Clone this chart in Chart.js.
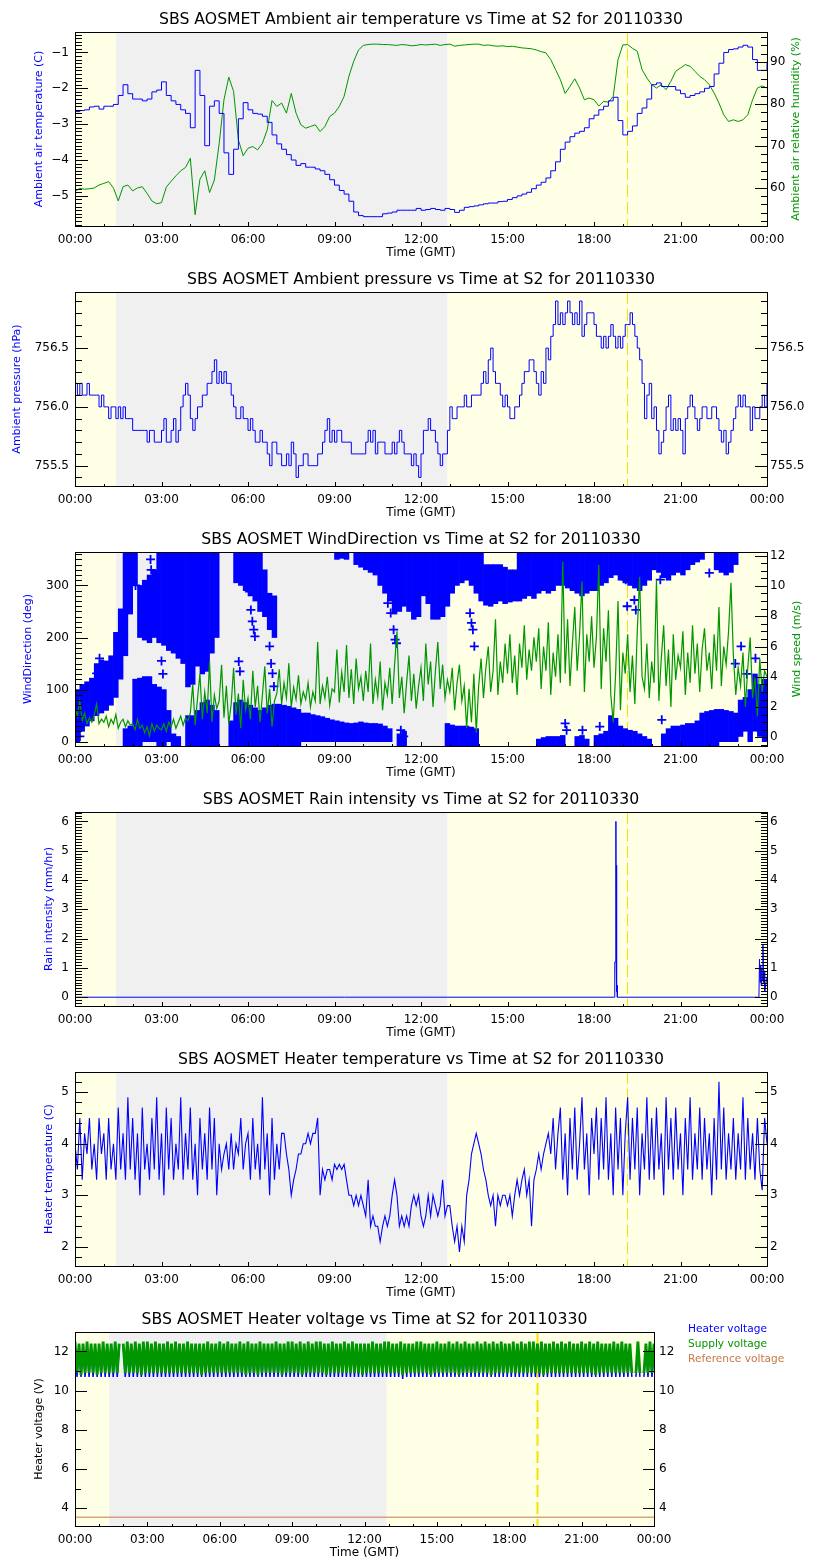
<!DOCTYPE html>
<html>
<head>
<meta charset="utf-8">
<title>SBS AOSMET S2 20110330</title>
<script src="https://cdn.jsdelivr.net/npm/chart.js@4.4.1/dist/chart.umd.min.js"></script>
<style>
  body { margin: 0; background: #fff; width: 840px; height: 1560px; overflow: hidden; }
  canvas { position: absolute; left: 0; }
  canvas.ticks { z-index: 2; pointer-events: none; }
</style>
</head>
<body>
<canvas id="p1" width="840" height="260" style="top:2px"></canvas>
<canvas id="p2" width="840" height="260" style="top:262px"></canvas>
<canvas id="p3" width="840" height="260" style="top:522px"></canvas>
<canvas id="p4" width="840" height="260" style="top:782px"></canvas>
<canvas id="p5" width="840" height="260" style="top:1042px"></canvas>
<canvas id="p6" width="840" height="260" style="top:1302px"></canvas>
<canvas id="p1t" class="ticks" width="840" height="260" style="top:2px"></canvas>
<canvas id="p2t" class="ticks" width="840" height="260" style="top:262px"></canvas>
<canvas id="p3t" class="ticks" width="840" height="260" style="top:522px"></canvas>
<canvas id="p4t" class="ticks" width="840" height="260" style="top:782px"></canvas>
<canvas id="p5t" class="ticks" width="840" height="260" style="top:1042px"></canvas>
<canvas id="p6t" class="ticks" width="840" height="260" style="top:1302px"></canvas>
<script>
// ---- data (hours GMT) ----
const nightStart = 1.42, nightEnd = 12.92, markerHour = 19.13;

// 10 minute samples
const step10 = 1 / 6;
const airTemp = [
  -2.65, -2.62, -2.6, -2.52, -2.5, -2.58, -2.5, -2.5, -2.45, -2.2,
  -1.9, -2.15, -2.3, -2.3, -2.35, -2.3, -2.1, -2.05, -1.82, -2.2,
  -2.35, -2.45, -2.6, -2.7, -3.1, -1.5, -2.2, -3.6, -2.5, -2.35,
  -2.7, -3.8, -4.4, -3.7, -2.85, -2.4, -2.6, -2.7, -2.72, -2.78,
  -2.95, -3.3, -3.55, -3.7, -3.85, -4.0, -4.15, -4.1, -4.2, -4.2,
  -4.25, -4.3, -4.4, -4.55, -4.7, -4.85, -4.95, -5.15, -5.45, -5.55,
  -5.58, -5.58, -5.58, -5.58, -5.5, -5.48, -5.45, -5.4, -5.4, -5.4,
  -5.4, -5.35, -5.4, -5.38, -5.35, -5.38, -5.4, -5.35, -5.38, -5.46,
  -5.4, -5.32, -5.3, -5.28, -5.25, -5.22, -5.2, -5.2, -5.16, -5.15,
  -5.1, -5.05, -5.0, -4.95, -4.9, -4.8, -4.7, -4.62, -4.5, -4.3,
  -4.05, -3.7, -3.5, -3.35, -3.25, -3.2, -3.1, -2.85, -2.75, -2.6,
  -2.5, -2.35, -2.25, -2.9, -3.3, -3.2, -3.05, -2.7, -2.55, -2.3,
  -1.9, -1.85, -1.95, -1.95, -1.95, -2.05, -2.15, -2.25, -2.2, -2.15,
  -2.1, -2.0, -1.95, -1.6, -1.3, -1.0, -0.92, -0.9, -0.85, -0.8,
  -0.85, -1.2, -1.5, -1.5, -1.3
];
const humidity = [
  59.1, 59.8, 59.6, 59.7, 59.9, 60.6, 61.0, 61.4, 59.9, 56.8,
  60.2, 60.6, 59.2, 59.9, 60.2, 58.6, 56.8, 56.1, 56.4, 60.1,
  61.5, 62.8, 64.0, 64.8, 67.0, 53.5, 62.0, 64.0, 58.8, 61.8,
  70.5, 81.0, 86.4, 83.0, 71.4, 67.6, 69.4, 69.8, 69.0, 70.6,
  73.8, 80.8, 79.4, 80.2, 77.8, 82.5, 77.8, 75.0, 74.2, 74.6,
  75.0, 73.4, 74.6, 77.0, 77.8, 79.4, 81.8, 86.6, 90.2, 92.9,
  94.0, 94.2, 94.3, 94.3, 94.2, 94.2, 94.1, 94.0, 94.2, 94.1,
  93.9, 94.0, 94.2, 94.1, 94.2, 94.3, 94.0, 94.2, 94.3, 93.8,
  94.0, 94.1, 94.2, 94.3, 94.3, 94.0, 94.1, 93.9, 93.8, 93.9,
  93.7, 93.8, 93.6, 93.4, 93.3, 93.2, 92.9, 92.5, 92.2, 90.6,
  88.2, 85.8, 82.5, 84.2, 86.0, 83.8, 81.0, 81.4, 81.0, 79.5,
  80.6, 80.4, 81.8, 90.6, 94.1, 94.2, 93.3, 92.6, 88.2, 86.2,
  84.6, 83.8, 84.6, 83.4, 85.4, 87.8, 88.6, 89.4, 89.0, 87.8,
  86.6, 85.8, 84.6, 82.6, 80.2, 77.4, 75.8, 76.2, 75.8, 76.2,
  77.4, 81.0, 83.8, 84.3, 83.8
];

// 5 minute samples
const step5 = 1 / 12;
const pressure = [
  756.2, 756.1, 756.2, 756.1, 756.1, 756.2, 756.1, 756.1, 756.1, 756.1, 756.0, 756.1,
  756.0, 756.0, 755.9, 756.0, 756.0, 755.9, 756.0, 755.9, 756.0, 755.9, 755.9, 755.9,
  755.8, 755.8, 755.8, 755.8, 755.8, 755.8, 755.7, 755.8, 755.8, 755.7, 755.7, 755.7,
  755.8, 755.9, 755.7, 755.7, 755.8, 755.9, 755.7, 755.8, 756.0, 756.1, 756.2, 756.1,
  755.9, 755.8, 755.9, 756.0, 756.0, 756.1, 756.1, 756.2, 756.2, 756.3, 756.4, 756.2,
  756.3, 756.2, 756.3, 756.2, 756.2, 756.1, 756.0, 755.9, 755.9, 756.0, 755.9, 755.9,
  755.8, 755.9, 755.8, 755.7, 755.7, 755.8, 755.7, 755.7, 755.6, 755.5, 755.7, 755.7,
  755.6, 755.6, 755.5, 755.5, 755.6, 755.5, 755.7, 755.6, 755.4, 755.5, 755.5, 755.6,
  755.6, 755.5, 755.5, 755.5, 755.5, 755.6, 755.6, 755.7, 755.8, 755.9, 755.7, 755.8,
  755.7, 755.8, 755.8, 755.7, 755.7, 755.7, 755.7, 755.6, 755.6, 755.6, 755.6, 755.6,
  755.6, 755.7, 755.8, 755.7, 755.8, 755.6, 755.7, 755.7, 755.7, 755.6, 755.6, 755.6,
  755.7, 755.6, 755.7, 755.8, 755.7, 755.6, 755.6, 755.6, 755.5, 755.6, 755.5, 755.4,
  755.6, 755.8, 755.8, 755.9, 755.8, 755.8, 755.7, 755.6, 755.5, 755.6, 755.6, 755.8,
  756.0, 755.9, 755.9, 756.0, 756.0, 756.0, 756.1, 756.0, 756.0, 756.1, 756.1, 756.1,
  756.1, 756.2, 756.3, 756.2, 756.4, 756.5, 756.3, 756.2, 756.2, 756.1, 756.0, 756.1,
  756.0, 755.9, 755.9, 756.0, 756.0, 756.1, 756.2, 756.3, 756.3, 756.4, 756.4, 756.3,
  756.2, 756.1, 756.3, 756.2, 756.5, 756.4, 756.6, 756.7, 756.9, 756.7, 756.8, 756.7,
  756.8, 756.9, 756.8, 756.7, 756.8, 756.7, 756.9, 756.6, 756.7, 756.8, 756.8, 756.8,
  756.7, 756.6, 756.6, 756.5, 756.6, 756.5, 756.6, 756.7, 756.6, 756.5, 756.6, 756.5,
  756.6, 756.7, 756.7, 756.8, 756.7, 756.6, 756.5, 756.4, 756.2, 755.9, 756.1, 756.2,
  755.9, 756.0, 755.8, 755.6, 755.7, 755.8, 756.0, 756.1, 755.8, 755.9, 755.8, 755.9,
  755.8, 755.6, 755.9, 756.0, 756.1, 756.0, 755.9, 755.8, 755.9, 756.0, 756.0, 755.9,
  755.9, 756.0, 756.0, 755.9, 755.8, 755.7, 755.8, 755.6, 755.7, 755.8, 755.9, 756.0,
  756.1, 756.0, 756.1, 756.0, 756.0, 755.8, 756.0, 755.9, 755.9, 756.0, 756.1, 756.0,
  756.2
];
const windSpeed = [
  2.0, 1.4, 2.4, 1.1, 1.6, 0.9, 1.3, 1.0, 1.5, 2.2, 0.9, 1.2,
  1.0, 1.4, 0.7, 1.2, 0.9, 1.5, 0.6, 1.0, 1.2, 0.7, 1.1, 0.8,
  0.9, 0.5, 1.2, 0.6, 0.8, 0.3, 0.7, 0.1, 0.9, 0.4, 0.8, 0.6,
  0.5, 0.9, 0.4, 1.0, 0.7, 1.2, 0.6, 1.0, 1.4, 0.8, 1.3, 1.1,
  1.6, 3.5, 0.8, 2.6, 4.2, 1.2, 3.0, 1.6, 5.0, 1.0, 2.8, 1.9,
  2.4, 4.8, 1.3, 3.4, 0.9, 2.2, 4.6, 1.5, 2.9, 0.6, 3.8, 1.8,
  2.6, 1.2, 4.4, 2.0, 3.4, 1.0, 2.8, 4.7, 1.6, 3.2, 0.7, 2.4,
  2.9, 4.5, 2.2, 3.6, 2.6, 4.9, 2.0, 3.3, 2.5, 4.1, 2.2, 3.0,
  2.5, 3.6, 2.0, 3.0, 2.4, 6.3, 2.2, 3.4, 2.6, 4.0, 2.1, 3.2,
  3.0, 5.8, 2.3, 4.3, 3.0, 6.1, 2.6, 4.5, 2.2, 5.2, 3.2, 4.0,
  2.4, 4.4, 3.0, 6.2, 2.2, 3.8, 2.7, 5.0, 1.8, 3.6, 2.8, 4.6,
  2.2, 4.8, 7.0, 2.6, 4.0, 1.6, 3.6, 5.4, 2.4, 4.2, 1.9, 3.4,
  4.6, 2.4, 6.2, 3.5, 5.0, 2.0, 4.4, 6.3, 3.2, 4.8, 2.6, 3.8,
  3.0, 4.6, 1.8, 3.6, 4.8, 2.4, 3.4, 0.6, 3.2, 1.0, 4.2, 0.3,
  3.4, 5.2, 2.6, 4.6, 6.0, 3.0, 4.4, 7.8, 2.8, 5.0, 3.6, 6.2,
  4.2, 6.8, 3.6, 5.4, 2.8, 6.2, 4.6, 7.4, 3.8, 5.8, 4.4, 6.6,
  5.0, 7.2, 3.2, 6.0, 4.4, 7.6, 2.8, 5.6, 4.0, 6.8, 3.6, 11.6,
  4.2, 7.8, 3.4, 6.2, 8.6, 4.4, 6.8, 10.3, 3.0, 6.8, 5.0, 8.0,
  4.6, 6.6, 11.4, 3.2, 7.2, 5.0, 8.4, 2.8, 1.0, 4.2, 9.0, 1.8,
  5.6, 4.2, 6.8, 3.0, 5.4, 2.2, 7.0, 10.6, 4.0, 3.2, 6.2, 2.6,
  5.0, 3.6, 10.4, 2.4, 5.2, 7.4, 3.4, 5.8, 2.0, 6.8, 3.8, 5.4,
  4.6, 7.0, 2.8, 5.6, 3.6, 7.4, 4.2, 6.2, 3.0, 5.8, 7.2, 4.4,
  5.6, 3.2, 6.8, 4.4, 8.6, 3.4, 6.0, 4.8, 7.0, 10.2, 5.4, 2.8,
  4.6, 3.4, 5.6, 2.0, 4.6, 6.6, 2.6, 4.0, 1.4, 5.2, 3.0, 4.4,
  4.0
];

// wind direction: extent of the dense marks per 10 minute bin [from, to] deg
const dirLow = [
  [0,100],[20,110],[30,115],[40,122],[50,150],[55,157],[60,155],[70,165],[85,210],[120,255],
  [-8,25],[-8,30],[-8,120],[-8,122],[0,125],[0,125],[0,110],[-8,105],[-8,100],[0,60],
  [-8,15],[-8,10],null,[-8,50],[-8,50],[-8,60],[-8,75],[-8,80],[-8,70],[-8,60],
  null,null,[-8,40],[-8,75],[-8,80],[-8,75],[-8,70],[-8,65],[-8,60],[-8,65],
  [-8,70],[-8,72],[-8,72],[-8,70],[-8,68],[-8,65],[-8,62],[0,55],[0,55],[0,52],
  [0,50],[0,48],[0,45],[0,42],[0,40],[0,38],[0,36],[0,35],[0,36],[0,38],
  [0,36],[0,35],[0,35],[0,34],[0,30],[0,25],null,[-8,15],[-8,20],null,
  null,null,null,null,null,null,null,[-8,35],[-8,32],[-8,30],
  [-8,30],[-8,30],[-8,28],[-8,25],null,null,null,null,null,null,
  null,null,null,null,null,null,[-8,5],[-8,8],[-8,10],[-8,10],
  [-8,10],[-8,12],null,null,[-8,10],[-8,12],[-8,5],null,[-8,12],[-8,15],
  [-8,20],[-8,50],[-8,45],[-8,30],[-8,25],[-8,22],[-8,20],[-8,15],[-8,10],[-8,5],
  null,null,[-8,15],[-8,25],[-8,30],[-8,30],[-8,32],[-8,35],[-8,35],[-8,40],
  [-8,55],[-8,58],[-8,60],[-8,62],[0,62],[0,60],[0,58],[0,55],[10,80],[20,85],
  [0,100],[20,130],[10,110],[0,120]
];
const dirHigh = [
  null,null,null,null,null,null,null,null,null,null,
  [165,364],[245,364],[300,364],[200,300],[195,310],[190,320],[200,330],[190,364],[185,364],[175,364],
  [170,364],[160,364],[150,364],[105,364],[110,364],[145,364],[130,364],[135,364],[170,364],[200,364],
  null,null,null,[305,364],[300,364],[290,364],[280,364],[270,364],[250,364],[240,330],
  [215,285],[200,280],null,null,null,null,null,null,null,null,
  null,null,null,null,[350,364],[352,364],[350,364],null,[340,364],[335,364],
  [330,364],[325,364],[320,364],[300,364],[285,364],[270,364],[245,364],[250,364],[260,364],[250,364],
  [235,364],[240,364],[280,364],[265,364],[235,364],[235,364],[240,364],[260,364],[285,364],[300,364],
  [305,364],[310,364],[300,364],[285,364],[270,364],[262,340],[260,340],[265,340],[270,340],[265,335],
  [268,330],[270,330],[270,364],[275,364],[280,364],[275,364],[285,364],[290,364],[285,364],[290,364],
  [300,364],[300,364],[295,364],[290,364],[285,364],[280,364],[285,364],[290,364],[290,364],[300,364],
  [305,364],[315,364],[320,364],[310,364],[305,364],[300,364],[295,364],[290,364],[300,364],[310,364],
  [330,364],[325,364],[315,364],[310,364],[320,364],[325,364],[320,364],[330,364],[340,364],[345,364],
  [350,364],null,null,[330,364],[325,364],[320,364],[325,364],[340,364],null,null,
  null,null,null,null
];
// isolated direction marks
const strayHour = [0.17, 0.67, 0.75, 0.85, 2.1, 2.62, 2.64, 2.66, 2.68, 3.0, 3.05, 5.68, 5.72,
  6.0, 6.05, 6.1, 6.15, 6.2, 6.24, 6.75, 6.8, 6.85, 6.9, 10.85, 10.95, 11.05, 11.1, 11.15,
  11.3, 11.4, 13.7, 13.75, 13.8, 13.85, 17.0, 17.05, 17.6, 18.2, 19.1, 19.15, 19.4, 19.45,
  20.3, 20.35, 22.0, 22.9, 23.1, 23.3, 23.6];
const strayDir = [10, 93, 131, 160, 300, 350, 330, 300, 270, 155, 130, 154, 135,
  307, 288, 253, 231, 215, 202, 183, 150, 131, 106, 266, 247, 215, 196, 189,
  22, 10, 247, 228, 215, 183, 35, 22, 22, 29, 311, 260, 272, 253,
  311, 42, 324, 150, 183, 130, 160];

const rainHour = [0, 18.70, 18.72, 18.75, 18.76, 18.77, 18.78, 18.79, 18.80, 18.81,
  23.72, 23.74, 23.76, 23.78, 23.80, 23.82, 23.84, 23.86, 23.88, 23.90, 23.92, 24];
const rainRate = [0, 0, 1.2, 1.2, 6.0, 1.1, 4.5, 0.2, 0.4, 0,
  0, 1.3, 0.5, 1.1, 0.4, 1.0, 0.6, 1.8, 0.5, 0.9, 0.2, 0.7];

const heaterTemp = [
  4.0, 3.5, 4.5, 3.3, 4.2, 3.8, 4.5, 3.5, 4.0, 3.3, 4.5, 3.8,
  4.2, 3.3, 4.5, 3.5, 4.0, 3.3, 4.7, 3.5, 4.2, 3.3, 4.9, 3.5,
  4.5, 3.3, 4.2, 3.0, 4.7, 3.5, 4.0, 3.3, 4.5, 3.5, 4.9, 3.3,
  4.2, 3.0, 4.7, 3.5, 4.5, 3.3, 4.0, 3.5, 4.9, 3.3, 4.2, 3.5,
  4.7, 3.3, 4.0, 3.0, 4.5, 3.5, 4.2, 3.3, 4.7, 3.5, 4.5, 3.0,
  4.0, 3.5, 3.8, 4.0, 3.5, 4.2, 3.5, 4.0, 3.8, 4.5, 3.5, 4.0,
  4.2, 3.3, 4.5, 3.5, 4.0, 3.3, 4.9, 3.5, 4.2, 3.0, 4.5, 3.3,
  4.0, 3.5, 4.2, 4.2, 3.8, 3.5, 3.0, 3.3, 3.5, 3.8, 3.8, 4.0,
  4.0, 4.2, 4.0, 4.2, 4.2, 4.5, 3.0, 3.5, 3.3, 3.5, 3.5, 3.3,
  3.6, 3.5, 3.6, 3.5, 3.6, 3.3, 3.0, 3.0, 2.8, 3.0, 2.8, 3.0,
  2.8, 2.6, 3.3, 2.4, 2.6, 2.4, 2.4, 2.1, 2.4, 2.6, 2.4, 2.6,
  3.0, 3.3, 3.0, 2.4, 2.6, 2.4, 2.6, 2.4, 2.8, 3.0, 2.8, 3.0,
  2.6, 2.4, 2.6, 3.0, 2.6, 3.0, 2.8, 2.6, 2.8, 3.3, 2.6, 2.8,
  2.8, 2.4, 2.1, 2.4, 1.9, 2.4, 2.1, 3.0, 3.3, 3.8, 4.0, 4.2,
  4.0, 3.8, 3.5, 3.3, 3.0, 2.8, 3.0, 2.4, 3.0, 2.8, 3.0, 3.0,
  2.8, 3.0, 2.6, 3.0, 3.3, 3.0, 3.3, 3.5, 3.0, 3.3, 2.4, 3.3,
  3.5, 3.8, 3.5, 3.8, 4.0, 4.2, 3.8, 4.5, 3.5, 4.2, 4.7, 3.3,
  4.2, 3.0, 4.5, 3.5, 4.7, 3.3, 4.0, 4.9, 3.5, 4.2, 3.0, 4.5,
  3.8, 4.7, 3.3, 4.5, 3.5, 4.9, 3.3, 4.2, 3.0, 4.7, 3.5, 4.5,
  3.0, 4.2, 4.9, 3.3, 4.5, 3.5, 4.7, 3.0, 4.2, 3.5, 4.9, 3.3,
  4.5, 3.3, 4.7, 3.5, 4.2, 3.0, 4.9, 3.5, 4.5, 3.3, 4.7, 3.5,
  4.2, 3.0, 4.5, 3.5, 4.9, 3.3, 4.2, 3.5, 4.7, 3.3, 4.5, 3.5,
  4.2, 3.0, 4.5, 3.3, 5.2, 3.5, 4.7, 3.3, 4.2, 3.5, 4.5, 3.3,
  4.2, 3.5, 4.9, 3.3, 4.5, 3.5, 4.2, 3.3, 4.5, 3.5, 3.1, 4.5,
  4.0
];

const heaterVolt = [
  12.2, 10.7, 12.2, 10.7, 12.2, 10.7, 12.2, 10.7, 12.2, 10.7, 12.2, 10.7,
  12.2, 10.7, 12.2, 10.7, 12.2, 10.7, 12.2, 10.7, 12.2, 10.7, 12.2, null,
  12.2, 10.7, 12.2, 10.7, 12.2, 10.7, 12.2, 10.7, 12.2, 10.7, 12.2, 10.7,
  12.2, 10.7, 12.2, 10.7, 12.2, 10.7, 12.2, 10.7, 12.2, 10.7, 12.2, 10.7,
  12.2, 10.7, 12.2, 10.7, 12.2, 10.7, 12.2, 10.7, 12.2, 10.7, 12.2, 10.7,
  12.2, 10.7, 12.2, 10.7, 12.2, 10.7, 12.2, 10.7, 12.2, 10.7, 12.2, 10.7,
  12.2, 10.7, 12.2, 10.7, 12.2, 10.7, 12.2, 10.7, 12.2, 10.7, 12.2, 10.7,
  12.2, 10.7, 12.2, 10.7, 12.2, 10.7, 12.2, 10.7, 12.2, 10.7, 12.2, 10.7,
  12.2, 10.7, 12.2, 10.7, 12.2, 10.7, 12.2, 10.7, 12.2, 10.7, 12.2, 10.7,
  12.2, 10.7, 12.2, 10.7, 12.2, 10.7, 12.2, 10.7, 12.2, 10.7, 12.2, 10.7,
  12.2, 10.7, 12.2, 10.7, 12.2, 10.7, 12.2, 10.7, 12.2, 10.7, 12.2, 10.7,
  12.2, 10.7, 12.2, 10.7, 12.2, 10.7, 12.2, 10.7, 12.2, 10.7, 12.2, 10.7,
  12.2, 10.7, 12.2, 10.7, 12.2, 10.7, 12.2, 10.7, 12.2, 10.7, 12.2, 10.7,
  12.2, 10.7, 12.2, 10.7, 12.2, 10.7, 12.2, 10.6, 12.2, 10.7, 12.2, 10.7,
  12.2, 10.7, 12.2, 10.7, 12.2, 10.7, 12.2, 10.7, 12.2, 10.7, 12.2, 10.7,
  12.2, 10.7, 12.2, 10.7, 12.2, 10.7, 12.2, 10.7, 12.2, 10.7, 12.2, 10.7,
  12.2, 10.7, 12.2, 10.7, 12.2, 10.7, 12.2, 10.7, 12.2, 10.7, 12.2, 10.7,
  12.2, 10.7, 12.2, 10.7, 12.2, 10.7, 12.2, 10.7, 12.2, 10.7, 12.2, 10.7,
  12.2, 10.7, 12.2, 10.7, 12.2, 10.7, 12.2, 10.7, 12.2, 10.7, 12.2, 10.7,
  12.2, 10.7, 12.2, 10.7, 12.2, 10.7, 12.2, 10.7, 12.2, 10.7, 12.2, 10.7,
  12.2, 10.7, 12.2, 10.7, 12.2, 10.7, 12.2, 10.7, 12.2, 10.7, 12.2, 10.7,
  12.2, 10.7, 12.2, 10.7, 12.2, 10.7, 12.2, 10.7, 12.2, 10.7, 12.2, 10.7,
  12.2, 10.7, 12.2, 10.7, 12.2, 10.7, 12.2, 10.7, 12.2, 10.7, 12.2, 10.7,
  12.2, 10.7, null, 10.7, 12.2, 10.7, null, 10.7, 12.2, 10.7, 12.2, 10.7,
  12.2
];
const supplyVolt = [
  12.5, 10.9, 12.4, 10.8, 12.4, 10.9, 12.5, 10.9, 12.4, 10.9, 12.4, 10.8,
  12.4, 10.9, 12.5, 10.9, 12.4, 10.9, 12.4, 10.9, 12.5, 10.9, 12.4, null,
  12.4, 10.9, 12.5, 10.9, 12.4, 10.9, 12.5, 10.9, 12.4, 10.8, 12.5, 10.9,
  12.5, 10.9, 12.4, 10.9, 12.5, 10.9, 12.4, 10.9, 12.4, 10.9, 12.5, 10.9,
  12.4, 10.9, 12.5, 10.9, 12.4, 10.9, 12.4, 10.9, 12.5, 10.9, 12.4, 10.9,
  12.4, 10.9, 12.4, 10.8, 12.4, 10.9, 12.5, 10.9, 12.4, 10.9, 12.4, 10.9,
  12.5, 10.9, 12.4, 10.9, 12.5, 10.9, 12.4, 10.9, 12.4, 10.9, 12.5, 10.9,
  12.4, 10.8, 12.5, 10.9, 12.4, 10.9, 12.4, 10.8, 12.5, 10.9, 12.4, 10.9,
  12.4, 10.9, 12.4, 10.9, 12.5, 10.9, 12.4, 10.8, 12.4, 10.9, 12.5, 10.9,
  12.5, 10.9, 12.4, 10.9, 12.5, 10.8, 12.4, 10.9, 12.5, 10.9, 12.4, 10.9,
  12.5, 10.9, 12.5, 10.9, 12.4, 10.8, 12.4, 10.9, 12.5, 10.9, 12.4, 10.9,
  12.4, 10.9, 12.5, 10.9, 12.4, 10.9, 12.5, 10.9, 12.4, 10.9, 12.4, 10.8,
  12.4, 10.9, 12.4, 10.9, 12.5, 10.9, 12.4, 10.9, 12.4, 10.9, 12.5, 10.9,
  12.5, 10.9, 12.4, 10.9, 12.4, 10.9, 12.5, 10.8, 12.4, 10.9, 12.4, 10.9,
  12.4, 10.9, 12.5, 10.9, 12.5, 10.9, 12.4, 10.9, 12.4, 10.8, 12.4, 10.9,
  12.5, 10.9, 12.4, 10.9, 12.4, 10.9, 12.5, 10.9, 12.4, 10.9, 12.5, 10.8,
  12.4, 10.9, 12.5, 10.9, 12.4, 10.9, 12.4, 10.9, 12.5, 10.9, 12.4, 10.9,
  12.5, 10.9, 12.4, 10.8, 12.5, 10.9, 12.4, 10.9, 12.5, 10.9, 12.4, 10.9,
  12.4, 10.9, 12.5, 10.9, 12.4, 10.9, 12.5, 10.9, 12.4, 10.9, 12.5, 10.9,
  12.5, 10.9, 12.4, 10.9, 12.5, 10.8, 12.4, 10.9, 12.4, 10.9, 12.5, 10.9,
  12.4, 10.9, 12.5, 10.9, 12.4, 10.9, 12.5, 10.9, 12.4, 10.9, 12.4, 10.9,
  12.5, 10.9, 12.4, 10.9, 12.5, 10.9, 12.4, 10.8, 12.5, 10.9, 12.4, 10.9,
  12.4, 10.9, 12.4, 10.9, 12.5, 10.9, 12.4, 10.9, 12.5, 10.9, 12.4, 10.9,
  12.4, 10.9, null, 10.9, 12.5, 10.9, null, 10.9, 12.4, 10.9, 12.5, 10.9,
  12.4
];
const refHour = [0, 24];
const refVolt = [3.55, 3.55];

// ---- styling ----
const BLUE = '#0000ff', GREEN = '#009600', BROWN = '#c8784a';
const YELLOW_BG = '#ffffe6', GREY_BG = '#f0f0f0', MARK = '#f2e400';

Chart.defaults.font.family = "'DejaVu Sans', sans-serif";
Chart.defaults.font.size = 12;
Chart.defaults.color = '#000';

const seq = (vals, step) => vals.map((v, i) => ({ x: i * step, y: v }));
const pairs = (xs, ys) => xs.map((x, i) => ({ x: x, y: ys[i] }));
const bins = (arr, step) => arr.map((r, i) => r ? { x: (i + 0.5) * step, y: r } : null).filter(Boolean);
const minus = v => (v < 0 ? '\u2212' + Math.abs(v) : String(v));

// per panel settings read by the frame plugin and the tick overlay
const frameSettings = {};

// background shading, marker line, right titles and legend
const idlFrame = {
  id: 'idlFrame',
  beforeDatasetsDraw(chart) {
    const { ctx, chartArea: a, scales: { x } } = chart;
    const o = frameSettings[chart.canvas.id];
    const spans = [[0, nightStart, YELLOW_BG], [nightStart, nightEnd, GREY_BG], [nightEnd, 24, YELLOW_BG]];
    ctx.save();
    spans.forEach(s => {
      const x0 = x.getPixelForValue(s[0]), x1 = x.getPixelForValue(s[1]);
      ctx.fillStyle = s[2];
      ctx.fillRect(x0, a.top, x1 - x0, a.bottom - a.top);
    });
    const xm = Math.round(x.getPixelForValue(markerHour)) + 0.5;
    ctx.strokeStyle = MARK;
    ctx.lineWidth = o.markWidth;
    ctx.setLineDash([12, 5]);
    ctx.beginPath();
    ctx.moveTo(xm, a.top);
    ctx.lineTo(xm, a.bottom);
    ctx.stroke();
    ctx.restore();
  },
  afterDraw(chart) {
    const { ctx, chartArea: a } = chart;
    const o = frameSettings[chart.canvas.id];
    ctx.save();
    if (o.rightTitle) {
      ctx.save();
      ctx.translate(o.rightTitle.x, (a.top + a.bottom) / 2);
      ctx.rotate(-Math.PI / 2);
      ctx.font = "11px 'DejaVu Sans', sans-serif";
      ctx.fillStyle = o.rightTitle.color;
      ctx.textAlign = 'center';
      ctx.textBaseline = 'middle';
      ctx.fillText(o.rightTitle.text, 0, 0);
      ctx.restore();
    }
    if (o.legend) {
      ctx.font = "10.6px 'DejaVu Sans', sans-serif";
      ctx.textBaseline = 'middle';
      ctx.textAlign = 'left';
      chart.data.datasets.forEach((ds, i) => {
        ctx.fillStyle = ds.borderColor;
        ctx.fillText(ds.label, o.legend.x, o.legend.y + i * 15);
      });
    }
    ctx.restore();
  }
};

// frame and inward IDL style ticks on a plain canvas laid over each chart,
// positioned from the chart's own scales
function drawOverlay(chart) {
  const o = frameSettings[chart.canvas.id];
  const ov = document.getElementById(chart.canvas.id + 't');
  const ctx = ov.getContext('2d');
  const a = chart.chartArea;
  const L = Math.round(a.left), R = Math.round(a.right), T = Math.round(a.top), B = Math.round(a.bottom);
  ctx.clearRect(0, 0, ov.width, ov.height);
  ctx.fillStyle = '#000';
  ctx.fillRect(L, T, R - L + 1, 1);
  ctx.fillRect(L, B, R - L + 1, 1);
  ctx.fillRect(L, T, 1, B - T + 1);
  ctx.fillRect(R, T, 1, B - T + 1);
  const marks = (scale, side, minorStep, majLen, minLen) => {
    const list = scale.ticks.map(t => [t.value, majLen]);
    const k0 = Math.ceil(scale.min / minorStep - 1e-6);
    const k1 = Math.floor(scale.max / minorStep + 1e-6);
    for (let k = k0; k <= k1; k++) list.push([k * minorStep, minLen]);
    list.forEach(([v, len]) => {
      const p = Math.round(scale.getPixelForValue(v));
      if (side === 'bottom') ctx.fillRect(p, B - len + 1, 1, len);
      else if (side === 'left') ctx.fillRect(L, p, len, 1);
      else ctx.fillRect(R - len + 1, p, len, 1);
    });
  };
  marks(chart.scales.x, 'bottom', 1, 5, 3);
  marks(chart.scales.y, 'left', o.yMinor, o.majLen, o.minLen);
  marks(chart.scales.y2, 'right', o.y2Minor, o.majLen, o.minLen);
}

function xAxis() {
  return {
    type: 'linear', min: 0, max: 24, offset: false,
    grid: { display: false, drawTicks: false }, border: { display: false },
    ticks: { stepSize: 3, autoSkip: false, maxRotation: 0, padding: 7, color: '#000',
      callback: v => String(v % 24).padStart(2, '0') + ':00' },
    title: { display: true, text: 'Time (GMT)', color: '#000', font: { size: 12 }, padding: { top: 0, bottom: 2 } },
    afterFit: s => { s.height = 36; }
  };
}

function yAxis(o) {
  return {
    type: 'linear', position: o.pos, min: o.min, max: o.max, display: true,
    grid: { display: false, drawTicks: false }, border: { display: false },
    ticks: { stepSize: o.step, autoSkip: false, includeBounds: false, padding: o.pad, color: '#000',
      callback: o.fmt || (v => String(v)) },
    title: o.title
      ? { display: true, text: o.title, color: o.color, font: { size: 11 }, padding: { top: o.tpad, bottom: 0 } }
      : { display: false },
    afterFit: s => { s.width = o.width; }
  };
}

function panel(id, title, datasets, scales, frameOpts) {
  frameSettings[id] = Object.assign({ majLen: 13, minLen: 7, markWidth: 1 }, frameOpts);
  const chart = new Chart(document.getElementById(id), {
    type: 'line',
    data: { datasets: datasets },
    options: {
      responsive: false,
      animation: false,
      events: [],
      layout: { padding: 0 },
      scales: scales,
      plugins: {
        legend: { display: false },
        tooltip: { enabled: false },
        title: { display: true, text: title, fullSize: false, color: '#000',
          font: { size: 15.7, weight: 'normal' }, padding: { top: 9, bottom: 2.16 } }
      }
    },
    plugins: [idlFrame]
  });
  drawOverlay(chart);
  return chart;
}

const line = (label, data, color, axis, extra) => Object.assign({
  label: label, data: data, borderColor: color, backgroundColor: color, yAxisID: axis,
  borderWidth: 1, pointRadius: 0, tension: 0, fill: false, spanGaps: false
}, extra || {});

const dateTag = ' vs Time at S2 for 20110330';

// 1: air temperature and humidity
panel('p1', 'SBS AOSMET Ambient air temperature' + dateTag, [
  line('Ambient air temperature', seq(airTemp, step10), BLUE, 'y', { stepped: true, order: 0 }),
  line('Ambient air relative humidity', seq(humidity, step10), GREEN, 'y2', { order: 1 })
], {
  x: xAxis(),
  y: yAxis({ pos: 'left', min: -5.84, max: -0.43, step: 1, pad: 6, width: 75, fmt: minus,
    title: 'Ambient air temperature (C)', color: BLUE, tpad: 32.4 }),
  y2: yAxis({ pos: 'right', min: 50.8, max: 97.2, step: 10, pad: 3, width: 73 })
}, { yMinor: 0.1, y2Minor: 2, rightTitle: { text: 'Ambient air relative humidity (%)', color: GREEN, x: 796 } });

// 2: pressure
panel('p2', 'SBS AOSMET Ambient pressure' + dateTag, [
  line('Ambient pressure', seq(pressure, step5), BLUE, 'y', { stepped: true })
], {
  x: xAxis(),
  y: yAxis({ pos: 'left', min: 755.327, max: 756.977, step: 0.5, pad: 6, width: 75, fmt: v => v.toFixed(1),
    title: 'Ambient pressure (hPa)', color: BLUE, tpad: 10.1 }),
  y2: yAxis({ pos: 'right', min: 755.327, max: 756.977, step: 0.5, pad: 3, width: 73, fmt: v => v.toFixed(1) })
}, { yMinor: 0.1, y2Minor: 0.1 });

// 3: wind direction and speed
panel('p3', 'SBS AOSMET WindDirection' + dateTag, [
  line('Wind speed', seq(windSpeed, step5), GREEN, 'y2', { order: 0, borderWidth: 1.2 }),
  { type: 'line', label: 'WindDirection', data: pairs(strayHour, strayDir), yAxisID: 'y', showLine: false,
    pointStyle: 'cross', pointRadius: 4.5, pointBorderWidth: 1.8, pointBorderColor: BLUE, borderColor: BLUE, order: 1 },
  { type: 'bar', label: 'WindDirection', data: bins(dirLow, step10), yAxisID: 'y', backgroundColor: BLUE,
    borderWidth: 0, grouped: false, barPercentage: 1, categoryPercentage: 1, order: 2 },
  { type: 'bar', label: 'WindDirection', data: bins(dirHigh, step10), yAxisID: 'y', backgroundColor: BLUE,
    borderWidth: 0, grouped: false, barPercentage: 1, categoryPercentage: 1, order: 2 }
], {
  x: xAxis(),
  y: yAxis({ pos: 'left', min: -8.3, max: 364.2, step: 100, pad: 6, width: 75,
    title: 'WindDirection (deg)', color: BLUE, tpad: 21.4 }),
  y2: yAxis({ pos: 'right', min: -0.57, max: 12.24, step: 2, pad: 3, width: 73 })
}, { yMinor: 10, y2Minor: 0.5, rightTitle: { text: 'Wind speed (m/s)', color: GREEN, x: 797 } });

// 4: rain
panel('p4', 'SBS AOSMET Rain intensity' + dateTag, [
  line('Rain intensity', pairs(rainHour, rainRate), BLUE, 'y')
], {
  x: xAxis(),
  y: yAxis({ pos: 'left', min: -0.3, max: 6.32, step: 1, pad: 6, width: 75,
    title: 'Rain intensity (mm/hr)', color: BLUE, tpad: 42.4 }),
  y2: yAxis({ pos: 'right', min: -0.3, max: 6.32, step: 1, pad: 3, width: 73 })
}, { yMinor: 0.1, y2Minor: 0.1 });

// 5: heater temperature
panel('p5', 'SBS AOSMET Heater temperature' + dateTag, [
  line('Heater temperature', seq(heaterTemp, step5), BLUE, 'y', { borderWidth: 1.1 })
], {
  x: xAxis(),
  y: yAxis({ pos: 'left', min: 1.63, max: 5.39, step: 1, pad: 6, width: 75,
    title: 'Heater temperature (C)', color: BLUE, tpad: 42.4 }),
  y2: yAxis({ pos: 'right', min: 1.63, max: 5.39, step: 1, pad: 3, width: 73 })
}, { yMinor: 0.2, y2Minor: 0.2 });

// 6: voltages
panel('p6', 'SBS AOSMET Heater voltage' + dateTag, [
  line('Heater voltage', seq(heaterVolt, step5), BLUE, 'y', { borderWidth: 1.5, order: 1 }),
  line('Supply voltage', seq(supplyVolt, step5), GREEN, 'y', { borderWidth: 2.8, order: 0 }),
  line('Reference voltage', pairs(refHour, refVolt), BROWN, 'y', { order: 2 })
], {
  x: xAxis(),
  y: yAxis({ pos: 'left', min: 3.1, max: 12.99, step: 2, pad: 6, width: 75,
    title: 'Heater voltage (V)', color: '#000', tpad: 32.4 }),
  y2: yAxis({ pos: 'right', min: 3.1, max: 12.99, step: 2, pad: 5, width: 186 })
}, { yMinor: 1, y2Minor: 1, majLen: 12, minLen: 6, markWidth: 2, legend: { x: 688, y: 27.3 } });
</script>
</body>
</html>
